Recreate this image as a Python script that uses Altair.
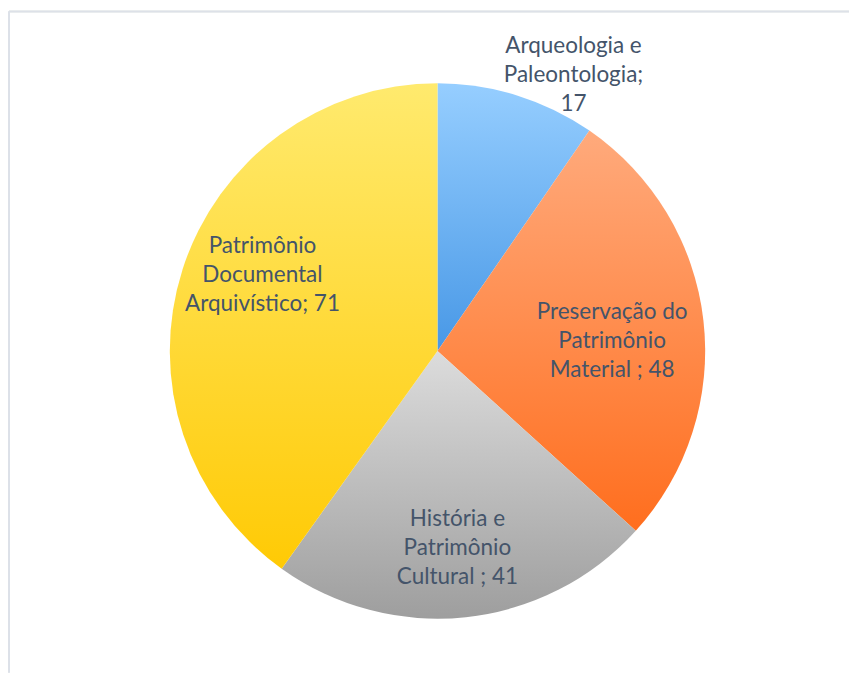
import altair as alt
import pandas as pd

categories = ["Arqueologia e Paleontologia", "Preservação do Patrimônio Material",
              "História e Patrimônio Cultural", "Patrimônio Documental Arquivístico"]
values = [17, 48, 41, 71]
labels = ["Arqueologia e\nPaleontologia;\n17", "Preservação do\nPatrimônio\nMaterial ; 48",
          "História e\nPatrimônio\nCultural ; 41", "Patrimônio\nDocumental\nArquivístico; 71"]

df = pd.DataFrame({"cat": categories, "value": values, "label": labels})
df["end"] = df["value"].cumsum()
df["start"] = df["end"] - df["value"]
df["mid"] = (df["start"] + df["end"]) / 2
total = float(sum(values))

gradients = [
    ("#96CEFF", "#4898E6"),
    ("#FFAA7C", "#FF6E1E"),
    ("#DCDCDC", "#9E9E9E"),
    ("#FFEA6E", "#FFCA05"),
]
# label placement: (radius, dx, dy)
label_pos = [(290, 50, -28), (176, 0, -19), (197, -1, -28), (183, -1, -49)]

W, H = 841, 662
CX, CY, R = 429, 340, 268
theta_scale = alt.Scale(domain=[0, total], range=[0, 6.283185307179586])

layers = []
for i, cat in enumerate(categories):
    c0, c1 = gradients[i]
    grad = alt.Gradient(gradient="linear", x1=0, y1=0, x2=0, y2=1,
                        stops=[alt.GradientStop(color=c0, offset=0),
                               alt.GradientStop(color=c1, offset=1)])
    arc = alt.Chart(df).transform_filter(alt.datum.cat == cat).mark_arc(
        radius=R, color=grad
    ).encode(
        theta=alt.Theta("start:Q", scale=theta_scale),
        theta2="end:Q",
        x=alt.value(CX), y=alt.value(CY),
    )
    layers.append(arc)

for i, cat in enumerate(categories):
    r, dx, dy = label_pos[i]
    txt = alt.Chart(df).transform_filter(alt.datum.cat == cat).mark_text(
        radius=r, dx=dx, dy=dy, font="Lato", fontSize=22.5, color="#44546A",
        lineBreak="\n", lineHeight=29, align="center", baseline="middle"
    ).encode(
        theta=alt.Theta("mid:Q", scale=theta_scale),
        text="label:N",
        x=alt.value(CX), y=alt.value(CY),
    )
    layers.append(txt)

# frame lines (top and left edges of the chart border)
frame_top = alt.Chart(df).mark_rule(color="#DDE1E8", strokeWidth=1.5).encode(
    x=alt.value(0), x2=alt.value(W), y=alt.value(0))
frame_left = alt.Chart(df).mark_rule(color="#DDE1E8", strokeWidth=1.5).encode(
    x=alt.value(0), y=alt.value(0), y2=alt.value(H))
layers += [frame_top, frame_left]

chart = alt.layer(*layers).properties(
    width=W, height=H, background="white",
    padding={"left": 0, "top": 2, "right": 0, "bottom": 0},
).configure_view(strokeWidth=0, stroke="transparent")

chart.save("out.html", embed_options={"renderer": "svg", "actions": False})
